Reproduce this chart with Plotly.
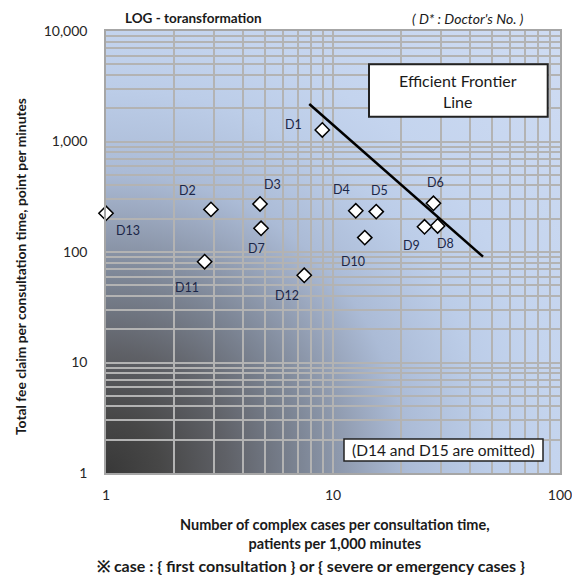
import math
import base64
import plotly.graph_objects as go

# ---------------- data ----------------
doctors = ["D1", "D2", "D3", "D4", "D5", "D6", "D7", "D8", "D9", "D10", "D11", "D12", "D13"]
complex_cases = [8.97, 2.90, 4.77, 12.6, 15.5, 27.7, 4.82, 28.9, 25.3, 13.8, 2.72, 7.47, 1.0]
fee_claim = [1271, 243, 272, 236, 232, 276, 164, 172, 169, 135, 81.7, 61.5, 224]

frontier_x = [7.86, 45.8]
frontier_y = [2184, 90.7]

x_tick_vals = [1, 10, 100]
x_tick_text = ["1", "10", "100"]
y_tick_vals = [1, 10, 100, 1000, 10000]
y_tick_text = ["1", "10", "100", "1,000", "10,000"]

# label offsets in pixels (dx right, dy down)
label_offsets = {
    "D1": (-29, -5), "D2": (-23, -19), "D3": (12, -19), "D4": (-14, -21),
    "D5": (3, -21), "D6": (2, -21), "D7": (-5, 20), "D8": (8, 18),
    "D9": (-13, 19), "D10": (-12, 24), "D11": (-18, 26), "D12": (-17, 20),
    "D13": (22, 17),
}

# ---------------- layout geometry ----------------
W, H = 572, 579
L, R, T, B = 106, 12, 31, 106
PW, PH = W - L - R, H - T - B

def px(xp):
    return (xp - L) / PW

def py(yp):
    return (T + PH - yp) / PH

# gradient background (radial from bottom-left corner)
stops = [
    (0.0, "#383838"), (0.086, "#474747"), (0.19, "#5f6167"), (0.31, "#7e8797"),
    (0.41, "#9ba8bf"), (0.47, "#abbbd6"), (0.60, "#bccde8"), (0.70, "#c4d4ee"),
    (1.0, "#cfdcf3"),
]
stop_svg = "".join(f'<stop offset="{o}" stop-color="{c}"/>' for o, c in stops)
svg = (
    f'<svg xmlns="http://www.w3.org/2000/svg" width="{PW}" height="{PH}" viewBox="0 0 {PW} {PH}" preserveAspectRatio="none">'
    f'<defs><radialGradient id="g" gradientUnits="userSpaceOnUse" cx="0" cy="{PH}" r="640">{stop_svg}</radialGradient></defs>'
    f'<rect x="0" y="0" width="{PW}" height="{PH}" fill="url(#g)"/></svg>'
)
svg_uri = "data:image/svg+xml;base64," + base64.b64encode(svg.encode()).decode()

FONT = "Lato"
grid_col = "#b3b3b3"

fig = go.Figure()

fig.add_trace(go.Scatter(
    x=frontier_x, y=frontier_y, mode="lines",
    line=dict(color="black", width=2.5), hoverinfo="skip", showlegend=False,
))

fig.add_trace(go.Scatter(
    x=complex_cases, y=fee_claim, mode="markers", text=doctors,
    marker=dict(symbol="diamond", size=11, color="white", line=dict(color="black", width=1.5)),
    cliponaxis=False, showlegend=False,
))

annotations = []
for name, xv, yv in zip(doctors, complex_cases, fee_claim):
    dx, dy = label_offsets[name]
    annotations.append(dict(
        x=math.log10(xv), y=math.log10(yv), xref="x", yref="y",
        xanchor="center", yanchor="middle",
        text=name, showarrow=False, xshift=dx, yshift=-dy,
        font=dict(family=FONT, size=12.5, color="#1b2647"),
    ))

def note(xp, yp, text, size, **kw):
    d = dict(x=px(xp), y=py(yp), xref="paper", yref="paper", text=text,
             xanchor="center", yanchor="middle", showarrow=False,
             font=dict(family=FONT, size=size, color="#1a1a1a"))
    d.update(kw)
    return d

annotations += [
    note(193, 18, "<b>LOG - toransformation</b>", 13.5),
    note(468, 18, "<i>( D* : Doctor's No. )</i>", 14),
    note(458.3, 91, "Efficient Frontier<br>Line", 16),
    note(443.5, 450, "(D14 and D15 are omitted)", 15.5),
    note(335, 534, "<b>Number of complex cases per consultation time,<br>patients per 1,000 minutes</b>", 14.5),
    note(20, 267, "<b>Total fee claim per consultation time, point per minutes</b>", 13.8, textangle=-90),
    note(311, 565, "<b>※ case : { first consultation } or { severe or emergency cases }</b>", 16),
]

shapes = [
    dict(type="rect", xref="paper", yref="paper", x0=px(369), x1=px(547.7), y0=py(116.7), y1=py(64.3),
         fillcolor="white", line=dict(color="#222222", width=2), layer="above"),
    dict(type="rect", xref="paper", yref="paper", x0=px(344), x1=px(543), y0=py(461), y1=py(439),
         fillcolor="white", line=dict(color="#222222", width=1.5), layer="above"),
]

minor_x = [v * m for m in (1, 10) for v in range(2, 10)]
minor_y = [v * m for m in (1, 10, 100, 1000) for v in range(2, 10)]

fig.update_layout(
    width=W, height=H,
    margin=dict(l=L, r=R, t=T, b=B, autoexpand=False),
    paper_bgcolor="white", plot_bgcolor="rgba(0,0,0,0)",
    images=[dict(source=svg_uri, xref="paper", yref="paper", x=0, y=1, sizex=1, sizey=1,
                 xanchor="left", yanchor="top", sizing="stretch", layer="below")],
    annotations=annotations, shapes=shapes,
    xaxis=dict(type="log", range=[0, 2], tickvals=x_tick_vals, ticktext=x_tick_text,
               automargin=False, ticklabeloverflow="allow",
               showgrid=True, gridcolor=grid_col, gridwidth=1.5,
               minor=dict(tickvals=minor_x, showgrid=True, gridcolor=grid_col, gridwidth=1.5, ticks=""),
               showline=True, mirror=True, linecolor="#a6a6a6", linewidth=1.5,
               ticks="", ticklabelstandoff=8, zeroline=False,
               tickfont=dict(family=FONT, size=14, color="#262626")),
    yaxis=dict(type="log", range=[0, 4], tickvals=y_tick_vals, ticktext=y_tick_text,
               automargin=False, ticklabeloverflow="allow",
               showgrid=True, gridcolor=grid_col, gridwidth=1.5,
               minor=dict(tickvals=minor_y, showgrid=True, gridcolor=grid_col, gridwidth=1.5, ticks=""),
               showline=True, mirror=True, linecolor="#a6a6a6", linewidth=1.5,
               ticks="", ticklabelstandoff=14, zeroline=False,
               tickfont=dict(family=FONT, size=14, color="#262626")),
    showlegend=False,
)

fig.write_html("out.html")
